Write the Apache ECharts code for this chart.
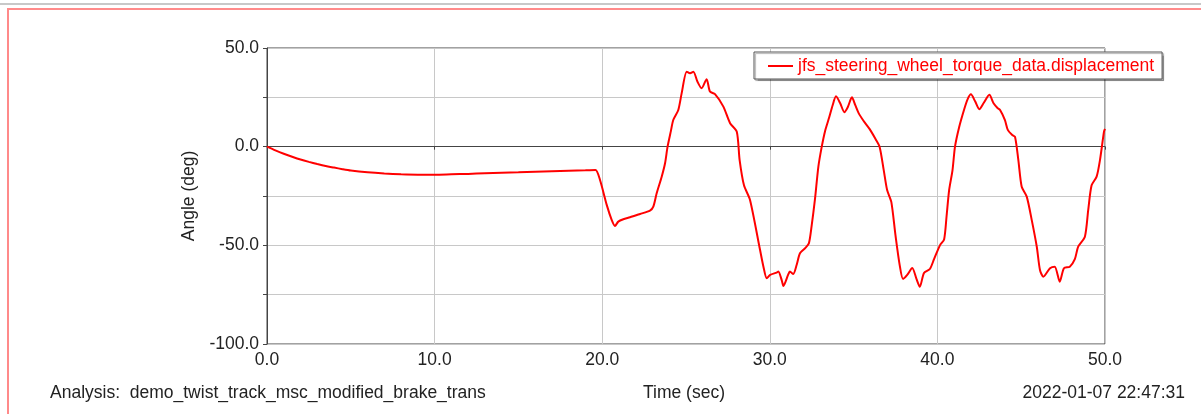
<!DOCTYPE html>
<html>
<head>
<meta charset="utf-8">
<script src="https://cdn.jsdelivr.net/npm/echarts@6/dist/echarts.min.js"></script>
<style>
html,body{margin:0;padding:0;background:#fff;}
#chart{width:1201px;height:414px;}
</style>
</head>
<body>
<div id="chart"></div>
<script>
const seriesName = 'jfs_steering_wheel_torque_data.displacement';
const time = [
  0, 0.5, 1, 1.5, 2, 2.5, 3, 3.5, 4, 4.5, 5, 6, 7, 8, 9, 10, 11, 12, 13, 14, 15, 16, 17, 18, 19, 19.6,
  19.87, 20.27, 20.57, 20.76, 20.96, 21.26, 21.66, 22.26, 22.85, 23.05, 23.25, 23.55, 23.75, 23.9,
  24.1, 24.24, 24.54, 24.74, 25.04, 25.24, 25.44, 25.68, 25.93, 26.23, 26.43, 26.73, 27.23, 27.63, 28.03,
  28.2, 28.46, 28.82, 29.42, 29.62, 29.82, 30.02, 30.41, 30.51, 30.71, 30.81, 31.09, 31.2, 31.4, 31.6, 31.8, 32.1, 32.33, 32.49, 32.69,
  32.9, 33.1, 33.3, 33.55, 33.75, 33.95, 34.2, 34.45, 34.65, 34.9, 35.1, 35.3, 35.6, 35.95, 36.3, 36.55,
  36.8, 37.0, 37.25, 37.5, 37.75, 37.95, 38.2, 38.5, 38.75, 38.95, 39.2, 39.55, 39.8, 40.15, 40.4, 40.55, 40.7, 40.9, 41.05,
  41.3, 41.6, 41.8, 42.0, 42.25, 42.5, 42.75, 43.1, 43.35, 43.6, 43.74, 44.03, 44.2, 44.45, 44.63,
  44.83, 45.03, 45.33, 45.63, 45.93, 46.12, 46.32, 46.72, 47.0, 47.3, 47.55, 47.9, 48.2, 48.4, 48.8,
  49.0, 49.2, 49.5, 49.7, 49.94, 50
];
const angle = [
  0, -1.9, -3.6, -5.1, -6.5, -7.7, -8.8, -9.8, -10.6, -11.4, -12.1, -13.0, -13.6, -14.0, -14.2, -14.2, -14.0, -13.8, -13.5, -13.2, -13.0, -12.7, -12.4, -12.2, -12.0, -11.8,
  -16.9, -29.5, -37.2, -40.2, -38.0, -36.8, -35.8, -34.1, -32.4, -30.4, -23.6, -15.2, -8.4, 0,
  8, 13.5, 18.6, 27, 38, 37.2, 38, 33, 29.6, 34.2, 27.9, 26.6, 20.3, 11.9, 7.6,
  -6.8, -19.6, -27, -52.4, -60.8, -66.7, -65, -63.8, -63.3, -67.6, -70.6, -65, -63.3, -64.5, -60, -54, -51.5, -49, -40.5, -27,
  -10, 0, 8, 15, 21, 25.5, 22, 17.5, 20, 25, 21, 17, 13, 9, 4, 0,
  -12, -22, -28, -45, -60, -67, -65, -61.5, -67, -71, -64, -62, -57, -50, -47, -35, -22, -12, 0,
  10, 19, 24, 26.5, 23, 19, 22, 26.3, 22, 19.5, 18.6, 13.5, 8.5, 6, 5,
  -6.8, -20.3, -25.3, -37.2, -50.7, -62.5, -65.9, -61.6, -60.8, -68.4, -61.6, -60.8, -57, -50.7, -45.6,
  -32, -19.6, -15.2, -6.8, 7.6, 9
];
const yTickLabels = [-100, -50, 0, 50];
const xTickLabels = [0, 10, 20, 30, 40, 50];

const FONT = '"Liberation Sans", Arial, Helvetica, sans-serif';
const FS = 17.5;
const TXT = '#222';

const chart = echarts.init(document.getElementById('chart'), null, {renderer: 'canvas'});
chart.setOption({
  animation: false,
  backgroundColor: '#fff',
  textStyle: {fontFamily: FONT},
  grid: {left: 267, top: 48, width: 838, height: 296, show: true, borderColor: '#444', borderWidth: 1, backgroundColor: 'transparent'},
  legend: {
    show: true,
    data: [seriesName],
    left: 754, top: 52,
    orient: 'horizontal',
    padding: [5, 8, 4, 14],
    itemWidth: 25, itemHeight: 18, itemGap: 6,
    icon: 'path://M0,9 L25,9 L25,11 L0,11 Z',
    backgroundColor: '#fff',
    borderColor: '#555', borderWidth: 1, borderRadius: 0,
    shadowColor: 'rgba(0,0,0,0.3)', shadowBlur: 1, shadowOffsetX: 1.5, shadowOffsetY: 1.5,
    textStyle: {color: '#ff0000', fontSize: FS, fontFamily: FONT, padding: [0, 0, 0, 0]},
    itemStyle: {color: '#ff0000'}
  },
  xAxis: {
    type: 'value', min: 0, max: 50, interval: 5,
    axisLine: {show: true, lineStyle: {color: '#444', width: 1}},
    axisTick: {show: true, length: 3, inside: false, lineStyle: {color: '#444'}, customValues: xTickLabels},
    axisLabel: {
      show: true, margin: 7, color: TXT, fontSize: FS, fontFamily: FONT,
      customValues: xTickLabels,
      formatter: v => v.toFixed(1)
    },
    splitLine: {show: true, lineStyle: {color: '#c8c8c8', width: 1}}
  },
  yAxis: {
    type: 'value', min: -100, max: 50, interval: 25,
    name: 'Angle (deg)', nameLocation: 'middle', nameGap: 69,
    nameTextStyle: {color: TXT, fontSize: FS, fontFamily: FONT},
    axisLine: {show: true, lineStyle: {color: '#444', width: 1}},
    axisTick: {show: true, length: 4, inside: false, lineStyle: {color: '#444'}},
    axisLabel: {
      show: true, margin: 8, color: TXT, fontSize: FS, fontFamily: FONT,
      formatter: v => (yTickLabels.indexOf(v) >= 0 ? v.toFixed(1) : '')
    },
    splitLine: {show: true, lineStyle: {color: '#c8c8c8', width: 1}}
  },
  series: [{
    name: seriesName,
    type: 'line',
    data: time.map((t, i) => [t, angle[i]]),
    symbol: 'none',
    smooth: 0.25,
    lineStyle: {color: '#ff0000', width: 2},
    itemStyle: {color: '#ff0000'},
    z: 5,
    markLine: {
      silent: true, symbol: 'none', label: {show: false}, animation: false,
      lineStyle: {color: '#444', type: 'solid', width: 1},
      data: [{yAxis: 0}],
      z: 3
    }
  }],
  graphic: [
    {type: 'rect', shape: {x: 0, y: 3, width: 1201, height: 2}, style: {fill: '#c8c8c8'}, silent: true},
    {type: 'rect', shape: {x: 7, y: 8, width: 1194, height: 2}, style: {fill: '#ff8a8a'}, silent: true},
    {type: 'rect', shape: {x: 7, y: 8, width: 2, height: 406}, style: {fill: '#ff8a8a'}, silent: true},
    {type: 'text', x: 50, y: 393, style: {text: 'Analysis:  demo_twist_track_msc_modified_brake_trans', fill: TXT, font: FS + 'px ' + FONT, textAlign: 'left', textVerticalAlign: 'middle'}, silent: true},
    {type: 'text', x: 684, y: 393, style: {text: 'Time (sec)', fill: TXT, font: FS + 'px ' + FONT, textAlign: 'center', textVerticalAlign: 'middle'}, silent: true},
    {type: 'text', x: 1185, y: 393, style: {text: '2022-01-07 22:47:31', fill: TXT, font: FS + 'px ' + FONT, textAlign: 'right', textVerticalAlign: 'middle'}, silent: true}
  ]
});
</script>
</body>
</html>
